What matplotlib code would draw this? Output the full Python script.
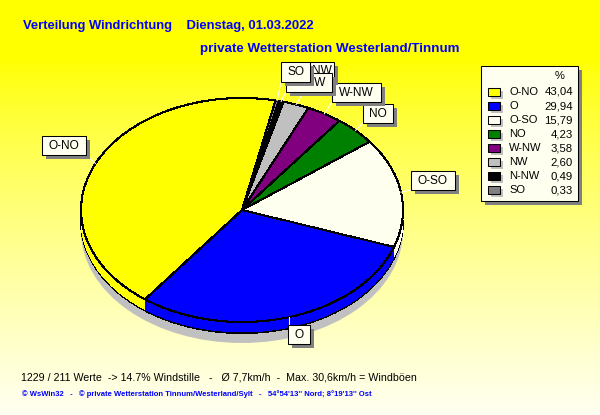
import numpy as np
import matplotlib
matplotlib.use('Agg')
import matplotlib.pyplot as plt
from matplotlib.patches import Rectangle, Circle

plt.rcParams['font.family'] = ['Liberation Sans', 'DejaVu Sans']

title1 = 'Verteilung Windrichtung    Dienstag, 01.03.2022'
title2 = 'private Wetterstation Westerland/Tinnum'
info = '1229 / 211 Werte  -> 14.7% Windstille   -   Ø 7,7km/h  -  Max. 30,6km/h = Windböen'
footer = "© WsWin32   -   © private Wetterstation Tinnum/Westerland/Sylt   -   54°54'13'' Nord; 8°19'13'' Ost"

directions = ['O-NO', 'O', 'O-SO', 'NO', 'W-NW', 'NW', 'N-NW', 'SO']
percents = [43.04, 29.94, 15.79, 4.23, 3.58, 2.60, 0.49, 0.33]
percent_text = ['43,04', '29,94', '15,79', '4,23', '3,58', '2,60', '0,49', '0,33']
colors = ['#ffff00', '#0000ff', '#fffff0', '#008000', '#800080', '#c0c0c0', '#000000', '#808080']

# label boxes in pixels: left, top, right, bottom (draw order matters, they overlap)
label_boxes = {
    'O-NO': (42, 136, 86, 155),
    'O': (288, 325, 310, 344),
    'O-SO': (411, 171, 455, 190),
    'NO': (363, 104, 393, 123),
    'W-NW': (332, 83, 381, 102),
    'NW': (310, 62, 334, 81),
    'N-NW': (286, 73, 332, 92),
    'SO': (281, 62, 310, 82),
}

W, H = 600, 415
cx, cy, rx, ry = 242, 210, 161, 112
depth = 11
shadow_drop = 21
start = 78

fig = plt.figure(figsize=(W / 100, H / 100), dpi=100)

# background fade
bg = fig.add_axes([0, 0, 1, 1])
grad = np.ones((H, 1, 3))
fade = np.clip((np.arange(H) - 60) / (H - 60), 0, 1) ** 0.8
grad[:, 0, 2] = fade * 0.95
bg.imshow(grad, aspect='auto')
bg.axis('off')

# pie axes: one data unit is rx across and ry down, which gives the ellipse
ax = fig.add_axes([0, 0, 1, 1])
wedge = {'edgecolor': 'black', 'linewidth': 0.75, 'antialiased': False}
flat = {'edgecolor': 'none', 'linewidth': 0, 'antialiased': False}
ax.pie(percents, colors=colors, startangle=start, center=(0, -depth / ry), wedgeprops=wedge)
for d in range(depth - 1, 0, -1):
    ax.pie(percents, colors=colors, startangle=start, center=(0, -d / ry), wedgeprops=flat)
ax.pie(percents, colors=colors, startangle=start, wedgeprops=wedge)
ax.add_patch(Circle((0, -shadow_drop / ry), 1, fc='#c0c0c0', ec='none', zorder=0))
ax.set_aspect('auto')
ax.set_xlim(-cx / rx, (W - cx) / rx)
ax.set_ylim((cy - H) / ry, cy / ry)

# overlay in pixel coordinates
ov = fig.add_axes([0, 0, 1, 1])
ov.set_xlim(0, W)
ov.set_ylim(H, 0)
ov.axis('off')

ov.text(23, 26, title1, color='#0000ff', fontsize=9.4, fontweight='bold', va='center')
ov.text(200, 49, title2, color='#0000ff', fontsize=9.6, fontweight='bold', va='center')
ov.text(21, 377, info, color='black', fontsize=7.7, va='center')
ov.text(22, 394, footer, color='#0000ff', fontsize=5.5, fontweight='bold', va='center')


def box(x0, y0, x1, y1, z, off=4):
    ov.add_patch(Rectangle((x0 + off, y0 + off), x1 - x0, y1 - y0, fc='#808080', ec='none', zorder=z))
    ov.add_patch(Rectangle((x0, y0), x1 - x0, y1 - y0, fc='#fffff0', ec='black', lw=0.75, zorder=z + 0.1))


# leader lines from each slice middle to its label
angle = start
for name, pct in zip(directions, percents):
    mid = np.radians(angle + pct * 3.6 / 2)
    angle += pct * 3.6
    x0, y0, x1, y1 = label_boxes[name]
    ex, ey = cx + rx * np.cos(mid), cy - ry * np.sin(mid)
    tx = np.clip(ex, x0, x1)
    ty = np.clip(ey, y0, y1)
    ov.plot([ex, tx], [ey, ty], color='white', lw=0.75, zorder=3)

z = 4
for name in label_boxes:
    x0, y0, x1, y1 = label_boxes[name]
    box(x0, y0, x1, y1, z)
    ov.text((x0 + x1) / 2, (y0 + y1) / 2, name, fontsize=8.6, ha='center', va='center', zorder=z + 0.2)
    z += 1

# legend panel
box(481, 66, 578, 201, 20)
ov.text(560, 76, '%', fontsize=8, ha='center', va='center', zorder=21)
for i, (name, txt, col) in enumerate(zip(directions, percent_text, colors)):
    y = 92 + i * 14.05
    ov.add_patch(Rectangle((491, y - 1), 12, 8, fc='#c0c0c0', ec='none', zorder=21))
    ov.add_patch(Rectangle((488, y - 4), 12, 8, fc=col, ec='black', lw=0.75, zorder=22))
    ov.text(509, y, name, fontsize=8, va='center', zorder=22)
    ov.text(573, y, txt, fontsize=8.2, ha='right', va='center', zorder=22)

fig.savefig('out.png', dpi=100)
